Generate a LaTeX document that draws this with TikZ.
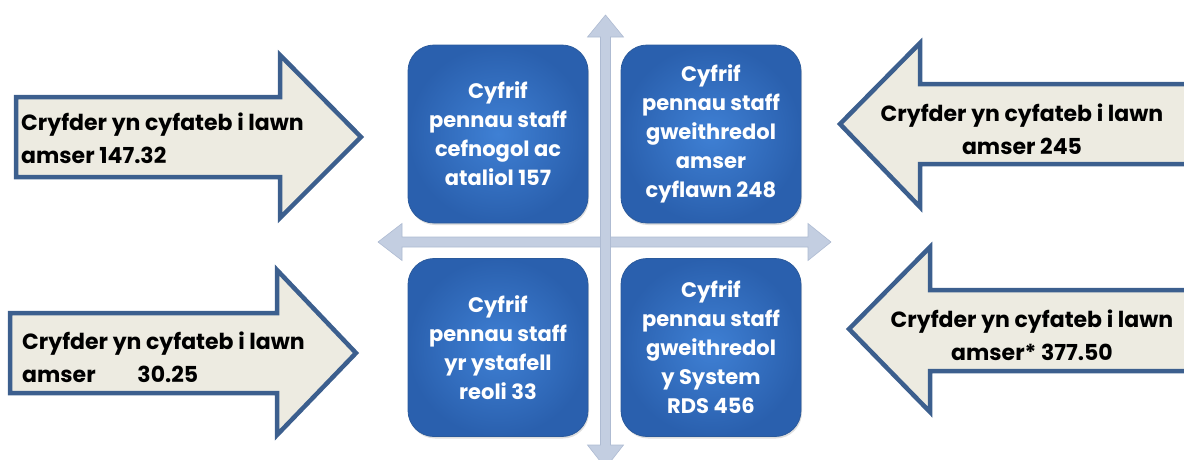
\documentclass[tikz,border=0pt]{standalone}
\usepackage{fontspec}
\setmainfont{Poppins}
\usetikzlibrary{shadows}
\definecolor{arrowline}{HTML}{3C5F8E}
\definecolor{arrowfill}{HTML}{EDEBE1}
\definecolor{crossfill}{HTML}{C3CEE1}
\definecolor{crossedge}{HTML}{AEBBD2}
\definecolor{boxin}{HTML}{3F80D4}
\definecolor{boxout}{HTML}{2A60AE}
\definecolor{boxedge}{HTML}{2A5A9C}
\tikzset{
  bigarrow/.style={draw=arrowline, line width=4.5pt, fill=arrowfill, line join=miter},
  crossarrow/.style={fill=crossfill, draw=crossedge, line width=0.6pt},
  quad/.style={draw=boxedge, line width=0.8pt, rounded corners=26pt, inner color=boxin, outer color=boxout,
    minimum width=180pt, minimum height=178pt, text=white, align=center, font=\bfseries\fontsize{21}{29}\selectfont,
    drop shadow={shadow xshift=1pt, shadow yshift=-2pt, opacity=0.25}},
  arrowtext/.style={text=black, font=\bfseries\fontsize{22}{33}\selectfont, inner sep=0pt}
}
\begin{document}
\begin{tikzpicture}[x=1pt,y=-1pt]
\useasboundingbox (0,0) rectangle (1184,459);
% left top arrow
\draw[bigarrow] (16,97) -- (280,97) -- (280,55) -- (361,137) -- (280,218) -- (280,177) -- (16,177) -- cycle;
\node[arrowtext, anchor=west, align=left] (lt) at (21,138) {Cryfder yn cyfateb i lawn\\amser 147.32};
% right top arrow
\draw[bigarrow] (1190,84) -- (920,84) -- (920,43) -- (840,124) -- (920,207) -- (920,164) -- (1190,164) -- cycle;
\node[arrowtext, align=center] (rt) at (1022,129) {Cryfder yn cyfateb i lawn\\amser 245};
% left bottom arrow
\draw[bigarrow] (10,313) -- (277,313) -- (277,270) -- (356,353) -- (277,435) -- (277,393) -- (10,393) -- cycle;
\node[arrowtext, anchor=west, align=left] (lb) at (22,357) {Cryfder yn cyfateb i lawn\\amser\hspace{1.9em}30.25};
% right bottom arrow
\draw[bigarrow] (1190,290) -- (930,290) -- (930,247) -- (849,329) -- (930,412) -- (930,371) -- (1190,371) -- cycle;
\node[arrowtext, align=center] (rb) at (1032,335) {Cryfder yn cyfateb i lawn\\amser* 377.50};
% cross
\draw[crossarrow] (378,242) -- (402,223.5) -- (402,237) -- (808,237) -- (808,223.5) -- (831,242) -- (808,260.5) -- (808,247) -- (402,247) -- (402,260.5) -- cycle;
\draw[crossarrow] (605.5,15) -- (623.5,37) -- (610.5,37) -- (610.5,445) -- (623.5,445) -- (605.5,468) -- (587.5,445) -- (600.5,445) -- (600.5,37) -- (587.5,37) -- cycle;
% boxes
\node[quad] (tl) at (498,134) {Cyfrif\\pennau staff\\cefnogol ac\\ataliol 157};
\node[quad] (tr) at (711,134) {Cyfrif\\pennau staff\\gweithredol\\amser\\cyflawn 248};
\node[quad] (bl) at (498,347.5) {Cyfrif\\pennau staff\\yr ystafell\\reoli 33};
\node[quad] (br) at (711,347.5) {Cyfrif\\pennau staff\\gweithredol\\y System\\RDS 456};
\end{tikzpicture}
\end{document}
